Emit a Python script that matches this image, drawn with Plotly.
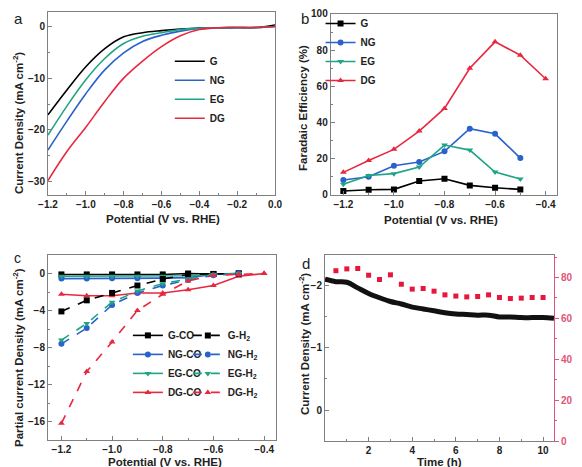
import plotly.graph_objects as go

# ---------------- data ----------------
# Panel a: LSV curves
pot_a = [-1.2, -1.1, -1.0, -0.9, -0.8, -0.7, -0.6, -0.5, -0.4, -0.3, -0.2, -0.1, 0.0]
lsv_G = [-17.1, -12.3, -7.8, -4.3, -2.0, -1.2, -0.8, -0.5, -0.3, -0.25, -0.2, -0.2, 0.3]
lsv_NG = [-23.9, -18.3, -13.0, -8.4, -5.1, -2.9, -1.7, -0.9, -0.4, -0.3, -0.25, -0.2, 0.0]
lsv_EG = [-21.0, -15.4, -10.3, -6.2, -3.3, -1.9, -1.2, -0.6, -0.35, -0.25, -0.2, -0.2, 0.0]
lsv_DG = [-29.8, -24.2, -19.5, -14.5, -10.0, -6.7, -3.9, -1.8, -0.6, -0.25, -0.2, -0.2, 0.0]

# Panel b: Faradaic efficiency
pot_b = [-1.2, -1.1, -1.0, -0.9, -0.8, -0.7, -0.6, -0.5]
pot_b_dg = [-1.2, -1.1, -1.0, -0.9, -0.8, -0.7, -0.6, -0.5, -0.4]
fe_G = [2.2, 2.9, 3.1, 7.7, 9.0, 5.3, 4.0, 3.1]
fe_NG = [8.3, 10.1, 16.2, 18.2, 24.1, 36.6, 33.8, 20.4]
fe_EG = [5.9, 10.8, 11.8, 15.4, 27.6, 24.8, 12.7, 8.8]
fe_DG = [12.5, 19.1, 25.2, 35.3, 47.8, 70.0, 84.6, 77.2, 64.2]

# Panel c: partial current densities
pot_c = [-1.2, -1.1, -1.0, -0.9, -0.8, -0.7, -0.6, -0.5]
pot_c_dg = [-1.2, -1.1, -1.0, -0.9, -0.8, -0.7, -0.6, -0.5, -0.4]
G_CO = [-0.1, -0.1, -0.1, -0.1, -0.1, 0.0, -0.05, 0.0]
G_H2 = [-4.1, -2.9, -2.1, -1.3, -0.6, -0.1, -0.05, 0.0]
NG_CO = [-0.55, -0.55, -0.5, -0.5, -0.5, -0.45, -0.1, 0.0]
NG_H2 = [-7.6, -5.9, -3.4, -2.1, -1.3, -0.7, -0.2, 0.0]
EG_CO = [-0.3, -0.3, -0.3, -0.3, -0.3, -0.25, -0.1, 0.0]
EG_H2 = [-7.2, -5.4, -3.1, -1.9, -1.1, -0.6, -0.1, 0.0]
DG_CO = [-2.25, -2.4, -2.4, -2.1, -2.1, -1.75, -1.3, -0.3, 0.0]
DG_H2 = [-16.2, -10.6, -7.4, -4.0, -2.25, -0.8, -0.2, -0.1, 0.0]

# Panel d: stability
time_h = [0, 0.5, 1, 1.5, 2, 2.5, 3, 3.5, 4, 4.5, 5, 5.5, 6, 6.5, 7, 7.5, 8, 8.5, 9, 9.5, 10, 10.5]
current_d = [-2.11, -2.07, -2.06, -1.97, -1.88, -1.81, -1.75, -1.71, -1.66, -1.63, -1.60, -1.57,
             -1.55, -1.54, -1.53, -1.53, -1.50, -1.50, -1.49, -1.49, -1.49, -1.48]
fe_time = [0.5, 1.0, 1.5, 2.0, 2.5, 3.0, 3.5, 4.0, 4.5, 5.0, 5.5, 6.0, 6.5, 7.0, 7.5, 8.0, 8.5, 9.0, 9.5, 10.0]
fe_d = [83.3, 84.2, 84.4, 81.1, 79.0, 81.3, 76.7, 74.3, 74.6, 73.3, 71.5, 70.9, 70.5, 70.7, 71.5,
        70.2, 69.7, 69.9, 70.2, 70.2]

# ---------------- styles ----------------
C_G = "#000000"
C_NG = "#2a62cc"
C_EG = "#1fa585"
C_DG = "#e8283f"
C_RAX = "#e0557a"
FONT = "Liberation Sans"
TICKFONT = dict(family=FONT, size=10, color="#222222", weight="bold")
LEGFONT = dict(family=FONT, size=10, color="#222222", weight="bold")
AXC = "#808080"
W, H = 582, 467

fig = go.Figure()

# Panel a
for name, ys, c in [("G", lsv_G, C_G), ("NG", lsv_NG, C_NG), ("EG", lsv_EG, C_EG), ("DG", lsv_DG, C_DG)]:
    fig.add_trace(go.Scatter(x=pot_a, y=ys, mode="lines", name=name, line=dict(color=c, width=1.6, shape="spline"),
                             xaxis="x", yaxis="y", legend="legend"))

# Panel b
for name, xs, ys, c, sym in [("G", pot_b, fe_G, C_G, "square"), ("NG", pot_b, fe_NG, C_NG, "circle"),
                             ("EG", pot_b, fe_EG, C_EG, "triangle-down"), ("DG", pot_b_dg, fe_DG, C_DG, "triangle-up")]:
    fig.add_trace(go.Scatter(x=xs, y=ys, mode="lines+markers", name=name, line=dict(color=c, width=1.6),
                             marker=dict(symbol=sym, size=6, color=c), xaxis="x2", yaxis="y2", legend="legend2"))

# Panel c
series_c = [("G-CO", pot_c, G_CO, C_G, "square", "solid", "legend3"),
            ("NG-CO", pot_c, NG_CO, C_NG, "circle", "solid", "legend3"),
            ("EG-CO", pot_c, EG_CO, C_EG, "triangle-down", "solid", "legend3"),
            ("DG-CO", pot_c_dg, DG_CO, C_DG, "triangle-up", "solid", "legend3"),
            ("G-H<sub>2</sub>", pot_c, G_H2, C_G, "square", "dash", "legend4"),
            ("NG-H<sub>2</sub>", pot_c, NG_H2, C_NG, "circle", "dash", "legend4"),
            ("EG-H<sub>2</sub>", pot_c, EG_H2, C_EG, "triangle-down", "dash", "legend4"),
            ("DG-H<sub>2</sub>", pot_c_dg, DG_H2, C_DG, "triangle-up", "dash", "legend4")]
for name, xs, ys, c, sym, dash, lg in series_c:
    fig.add_trace(go.Scatter(x=xs, y=ys, mode="lines+markers", name=name,
                             line=dict(color=c, width=1.6, dash=dash),
                             marker=dict(symbol=sym, size=6, color=c), xaxis="x3", yaxis="y3", legend=lg))

# Panel d
fig.add_trace(go.Scatter(x=time_h, y=current_d, mode="lines", line=dict(color="#111111", width=5, shape="spline"),
                         showlegend=False, xaxis="x4", yaxis="y4"))
fig.add_trace(go.Scatter(x=fe_time, y=fe_d, mode="markers", marker=dict(symbol="square", size=5, color="#e8163c"),
                         showlegend=False, xaxis="x4", yaxis="y5"))


def ax(**kw):
    base = dict(showline=True, linecolor=AXC, linewidth=1, mirror=True, ticks="inside", ticklen=4,
                tickcolor=AXC, showgrid=False, zeroline=False, tickfont=TICKFONT,
                minor=dict(ticks="inside", ticklen=2, tickcolor=AXC), automargin=False)
    base.update(kw)
    return base


def mn(**kw):
    d = dict(ticks="inside", ticklen=2, tickcolor=AXC)
    d.update(kw)
    return d


def label(text, px, py, size=15, angle=0, color="#222222", bold=False):
    return dict(text=text, x=px / W, y=1 - py / H, xref="paper", yref="paper", showarrow=False,
                xanchor="center", yanchor="middle", textangle=angle, borderpad=0,
                font=dict(family=FONT, size=size, color=color, weight="bold" if bold else "normal"))


def leg(x, y):
    return dict(x=x, y=y, xanchor="left", yanchor="top", bgcolor="rgba(0,0,0,0)", itemwidth=30,
                font=LEGFONT, tracegroupgap=0)


fig.update_layout(
    width=W, height=H, margin=dict(l=0, r=0, t=0, b=0),
    paper_bgcolor="white", plot_bgcolor="white",
    xaxis=ax(domain=[0.0687, 0.4588], anchor="y", range=[-1.2, 0.0], dtick=0.2, tickformat=".1f",
             minor=mn(dtick=0.1)),
    yaxis=ax(domain=[0.5996, 0.9914], anchor="x", range=[-32.6, 2.8], dtick=10, minor=mn(dtick=5)),
    xaxis2=ax(domain=[0.5545, 0.9433], anchor="y2", range=[-1.25, -0.355], tickvals=[-1.2, -1.0, -0.8, -0.6, -0.4],
              tickformat=".1f", minor=mn(tickvals=[-1.1, -0.9, -0.7, -0.5])),
    yaxis2=ax(domain=[0.5996, 0.9872], anchor="x2", range=[0, 100], dtick=20, minor=mn(dtick=10)),
    xaxis3=ax(domain=[0.0687, 0.4605], anchor="y3", range=[-1.253, -0.353], tickvals=[-1.2, -1.0, -0.8, -0.6, -0.4],
              tickformat=".1f", minor=mn(tickvals=[-1.1, -0.9, -0.7, -0.5])),
    yaxis3=ax(domain=[0.0749, 0.4711], anchor="x3", range=[-18, 2], dtick=4, minor=mn(dtick=2)),
    xaxis4=ax(domain=[0.5447, 0.9381], anchor="y4", range=[0, 10.5], tickvals=[2, 4, 6, 8, 10],
              minor=mn(tickvals=[1, 3, 5, 7, 9])),
    yaxis4=ax(domain=[0.0728, 0.4711], anchor="x4", range=[0.5, -2.5], tickvals=[-2, -1, 0],
              mirror=False, minor=mn(tickvals=[-2.5, -1.5, -0.5, 0.5])),
    yaxis5=dict(overlaying="y4", anchor="x4", side="right", range=[0, 91], dtick=20, showgrid=False, zeroline=False,
                showline=True, linecolor=C_RAX, linewidth=1, ticks="outside", ticklen=4, tickcolor=C_RAX,
                minor=dict(ticks="outside", ticklen=2, tickcolor=C_RAX, dtick=10),
                tickfont=dict(family=FONT, size=10, color=C_RAX, weight="bold"), automargin=False),
    legend=leg(0.278, 0.917),
    legend2=leg(0.537, 0.998),
    legend3=leg(0.206, 0.33),
    legend4=leg(0.309, 0.33),
    annotations=[
        label("a", 10, 10),
        label("b", 297, 10),
        label("c", 9, 250, size=14),
        label("d", 298, 255),
        # axis titles
        label("Potential (V vs. RHE)", 155, 211, size=11.5, bold=True),
        label("Potential (V vs. RHE)", 433, 212, size=11.5, bold=True),
        label("Potential (V vs. RHE)", 157, 454, size=11.5, bold=True),
        label("Time (h)", 431, 454, size=11.5, bold=True),
        label("Current Density (mA cm<sup>-2</sup>)", 10, 115, size=11.5, angle=-90, bold=True),
        label("Faradaic Efficiency (%)", 295, 100, size=11.5, angle=-90, bold=True),
        label("Partial current Density (mA cm<sup>-2</sup>)", 10, 350, size=11.5, angle=-90, bold=True),
        label("Current Density (mA cm<sup>-2</sup>)", 296, 336, size=11.5, angle=-90, bold=True),
        label("Faradaic Efficiency (%)", 572, 343, size=11, angle=-90, color="#e8203c", bold=True),
    ],
)

fig.write_html("out.html")
